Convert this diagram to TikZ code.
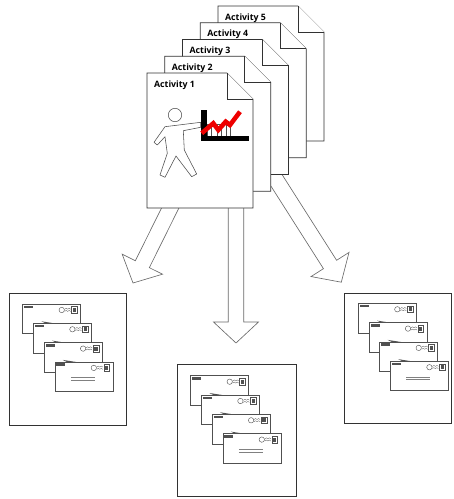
\documentclass[tikz,border=0pt]{standalone}
\usepackage{fontspec}
\setsansfont{Open Sans}
\usetikzlibrary{calc}
\definecolor{edge}{RGB}{50,50,50}
\definecolor{arrowc}{RGB}{105,105,105}
\definecolor{figc}{RGB}{80,80,80}
\definecolor{envc}{RGB}{80,80,80}
\definecolor{chartred}{RGB}{238,0,0}

% wide hollow arrow from #1 to its tip #2
\newcommand{\fatarrow}[2]{%
  \coordinate (fa-base) at ($(#2)!10.5mm!(#1)$);
  \draw[fat] ($(#1)!3.9mm!90:(#2)$) -- ($(fa-base)!3.9mm!90:(#2)$)
    -- ($(fa-base)!11.25mm!90:(#2)$) -- (#2)
    -- ($(fa-base)!11.25mm!-90:(#2)$) -- ($(fa-base)!3.9mm!-90:(#2)$)
    -- ($(#1)!3.9mm!-90:(#2)$) -- cycle;}

% four letters, each one lower and to the right of the last
\newcommand{\envstack}[2]{%
  \foreach \i in {0,...,3} {
    \begin{scope}[shift={(#1+10.7*\i,#2+19.3*\i)}]
      \ifnum\i>0
        \fill[envc] (8,-2) -- (36,2.4) -- (12,0) -- cycle;
      \fi
      \draw[envline,fill=white] (0,0) rectangle (58,29.5);
      \fill[envc] (1.5,1.5) rectangle (10.5,4);
      \draw[envline] (39,6) circle (2.7);
      \draw[envline,line width=0.4pt] (42,5.2) -- (43.5,4.2) -- (45,5.2) -- (46.5,4.2) -- (48,5.2);
      \draw[envline,line width=0.4pt] (42,7.4) -- (43.5,6.4) -- (45,7.4) -- (46.5,6.4) -- (48,7.4);
      \draw[envline] (49,2.7) rectangle (54.7,9.3);
      \fill[envc] (50.3,4) rectangle (53.4,8);
      \ifnum\i=3
        \draw[gray,line width=1.3pt] (16,15.9) -- (40,15.9);
        \draw[gray,line width=1.3pt] (16,18.7) -- (40,18.7);
      \fi
    \end{scope}
  }}

\begin{document}
\begin{tikzpicture}[x=0.5mm,y=-0.5mm,
  sheet/.style={draw=edge,fill=white,line width=0.9pt,line join=miter},
  fat/.style={draw=arrowc,fill=white,line width=0.9pt},
  tray/.style={draw=edge,line width=0.9pt,anchor=north west,inner sep=0pt},
  envline/.style={draw=envc,line width=0.6pt},
  actlab/.style={font=\sffamily\bfseries\fontsize{12.5}{15}\selectfont,anchor=base west,inner sep=0pt}]
\useasboundingbox (0,0) rectangle (454,499);

% arrows start under the stack of sheets
\coordinate (srcL) at (201,146);
\coordinate (tipL) at (133,283);
\coordinate (srcC) at (236,150);
\coordinate (tipC) at (236,343);
\coordinate (srcR) at (265.6,163.2);
\coordinate (tipR) at (341.3,282.2);
\fatarrow{srcL}{tipL}
\fatarrow{srcC}{tipC}
\fatarrow{srcR}{tipR}

% the stack of sheets, back one first
\foreach \k in {5,4,3,2,1} {
  \pgfmathsetmacro\lft{147+17.75*(\k-1)}
  \pgfmathsetmacro\tp{73-16.75*(\k-1)}
  \draw[sheet] (\lft,\tp) -- (\lft+80,\tp) -- (\lft+106,\tp+26)
    -- (\lft+106,\tp+135) -- (\lft,\tp+135) -- cycle;
  \draw[sheet] (\lft+80,\tp) -- (\lft+80,\tp+26) -- (\lft+106,\tp+26);
  \node[actlab] (act\k) at (\lft+7,\tp+14) {Activity \k};
}

% presenter on the front sheet
\draw[figc,fill=white,line width=0.8pt,line join=round]
  (165,126.7) -- (200.7,122.3) -- (200.7,127.3) -- (183.3,130.7) -- (184.3,150)
  -- (196.7,174) -- (191.7,176.7) -- (176,156) -- (165,177.3) -- (160,175)
  -- (167.3,153.3) -- (165,136.7) -- (157.3,145) -- (154,142.3) -- cycle;
\draw[figc,fill=white,line width=0.8pt] (175,115) circle (6.7);

% chart
\foreach \a/\b in {207.7/211,217.7/221,226.7/230.7}
  \draw[figc,fill=white,line width=0.6pt] (\a,124) rectangle (\b,137);
\fill[black] (201,110) rectangle (206.5,140.7);
\fill[black] (201,136) rectangle (248.5,140.7);
\draw[chartred,line width=6.5pt,line join=miter]
  (201.7,133.3) -- (213.3,123.3) -- (218.3,130) -- (225.7,121.7) -- (230,125) -- (240,111.7);

% three trays of letters
\node[tray,minimum width=58.5mm,minimum height=66mm] (trayL) at (9,293) {};
\node[tray,minimum width=59.5mm,minimum height=66mm] (trayC) at (177,364) {};
\node[tray,minimum width=53.5mm,minimum height=65mm] (trayR) at (344,293) {};
\envstack{22.7}{304}
\envstack{190.7}{375.7}
\envstack{358.3}{303.3}
\end{tikzpicture}
\end{document}
